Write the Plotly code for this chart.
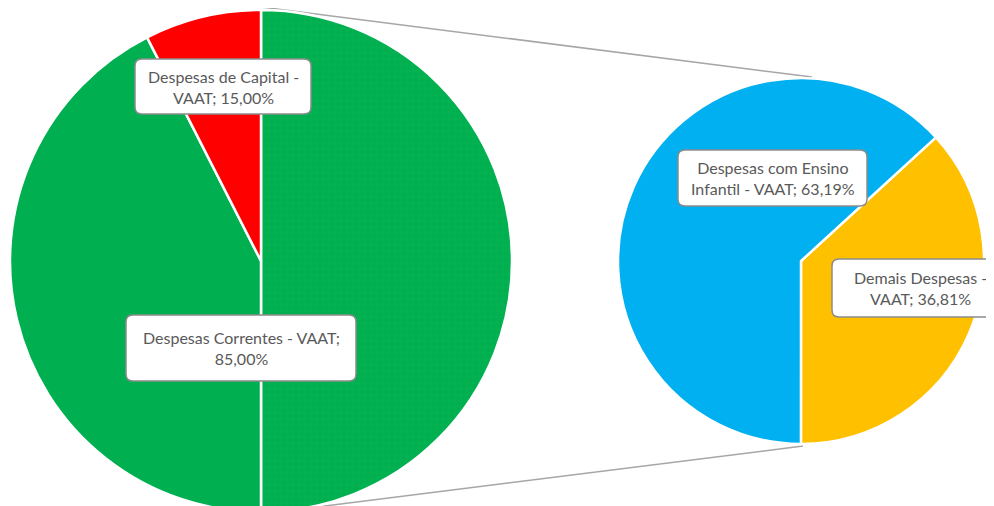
import plotly.graph_objects as go

# ---- data ----
main_labels = ["Despesas com Educação - VAAT (detalhe)", "Despesas Correntes - VAAT", "Despesas de Capital - VAAT"]
main_values = [100.0, 85.0, 15.0]
main_colors = ["#00B050", "#00B050", "#FF0000"]

detail_labels = ["Demais Despesas - VAAT", "Despesas com Ensino Infantil - VAAT"]
detail_values = [36.81, 63.19]
detail_colors = ["#FFC000", "#00B0F0"]

label_pcts = {
    "Despesas de Capital - VAAT": 15.00,
    "Despesas Correntes - VAAT": 85.00,
    "Despesas com Ensino Infantil - VAAT": 63.19,
    "Demais Despesas - VAAT": 36.81,
}

W, H = 994, 506
OFF = 8  # page body margin offset


def px(x):
    return (x - OFF) / W


def py(y):
    return 1 - (y - OFF) / H


def pct(v):
    return f"{v:.2f}".replace(".", ",") + "%"


fig = go.Figure()

# left (main) pie: center (261, 261), radius 251 in screen pixels
fig.add_trace(go.Pie(
    labels=main_labels, values=main_values,
    sort=False, direction="clockwise", rotation=0,
    marker=dict(colors=main_colors, line=dict(color="white", width=2.5),
                pattern=dict(shape=["+", "", ""], fgcolor="#2cc066", bgcolor=main_colors,
                             fgopacity=0.3, size=6, solidity=0.1, fillmode="replace")),
    textinfo="none", hoverinfo="label+percent", showlegend=False,
    domain=dict(x=[px(10), px(512)], y=[py(512), py(10)]),
))

# right (detail) pie: center (801, 261), radius 183
fig.add_trace(go.Pie(
    labels=detail_labels, values=detail_values,
    sort=False, direction="clockwise", rotation=47.5,
    marker=dict(colors=detail_colors, line=dict(color="white", width=2.5)),
    textinfo="none", hoverinfo="label+percent", showlegend=False,
    domain=dict(x=[px(618), px(984)], y=[py(444), py(78)]),
))

shapes = []
# connector lines (behind pies)
for (x0, y0, x1, y1) in [(261, 7, 812, 77), (261, 514, 803, 446)]:
    shapes.append(dict(type="line", xref="paper", yref="paper", layer="below",
                       x0=px(x0), y0=py(y0), x1=px(x1), y1=py(y1),
                       line=dict(color="#A6A6A6", width=1.5)))


def rounded_box(x0, y0, x1, y1, r=7):
    path = (f"M {px(x0 + r)} {py(y0)} L {px(x1 - r)} {py(y0)} "
            f"Q {px(x1)} {py(y0)} {px(x1)} {py(y0 + r)} "
            f"L {px(x1)} {py(y1 - r)} Q {px(x1)} {py(y1)} {px(x1 - r)} {py(y1)} "
            f"L {px(x0 + r)} {py(y1)} Q {px(x0)} {py(y1)} {px(x0)} {py(y1 - r)} "
            f"L {px(x0)} {py(y0 + r)} Q {px(x0)} {py(y0)} {px(x0 + r)} {py(y0)} Z")
    return dict(type="path", xref="paper", yref="paper", layer="above", path=path,
                fillcolor="white", line=dict(color="#8C8C8C", width=1.5))


boxes = [
    ("Despesas de Capital -<br>VAAT; " + pct(label_pcts["Despesas de Capital - VAAT"]), 135, 59, 311, 114, None),
    ("Despesas Correntes - VAAT;<br>" + pct(label_pcts["Despesas Correntes - VAAT"]), 126, 315, 356, 381, None),
    ("Despesas com Ensino<br>Infantil - VAAT; " + pct(label_pcts["Despesas com Ensino Infantil - VAAT"]), 678, 150, 867, 206, None),
    ("Demais Despesas -<br>VAAT; " + pct(label_pcts["Demais Despesas - VAAT"]), 832, 259, 1040, 317, 920),
]

annotations = []
for text, x0, y0, x1, y1, cx in boxes:
    shapes.append(rounded_box(x0, y0, x1, y1))
    annotations.append(dict(xref="paper", yref="paper",
                            x=px(cx if cx is not None else (x0 + x1) / 2), y=py((y0 + y1) / 2),
                            xanchor="center", yanchor="middle", text=text, showarrow=False,
                            font=dict(family="Lato, Open Sans, sans-serif", size=16, color="#595959"),
                            align="center"))

fig.update_layout(
    width=W, height=H,
    margin=dict(l=0, r=0, t=0, b=0),
    paper_bgcolor="white", plot_bgcolor="white",
    shapes=shapes, annotations=annotations,
    showlegend=False,
)

fig.write_html("out.html")
